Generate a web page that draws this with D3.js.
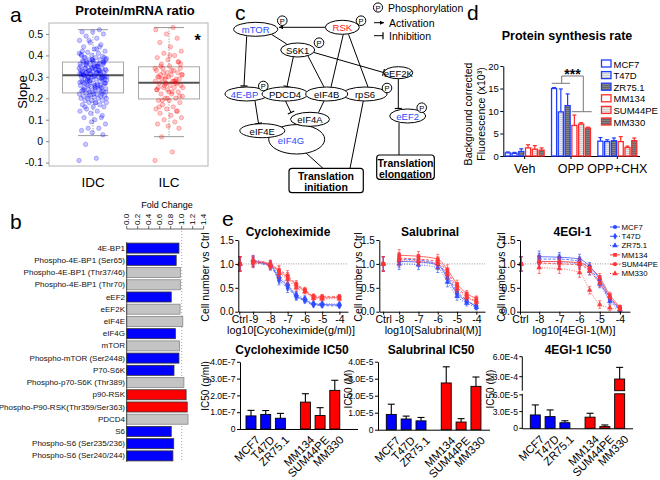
<!DOCTYPE html>
<html><head><meta charset="utf-8">
<script src="https://cdn.jsdelivr.net/npm/d3@7"></script>
<style>body{margin:0;background:#fff}svg{display:block}</style>
</head><body><svg id="fig" width="660" height="480"></svg>
<script>
// ---------------- DATA ----------------
// a: protein/mRNA slope
const aCategories = ["IDC", "ILC"];
const aTicks = [-0.1, 0, 0.1, 0.2, 0.3, 0.4, 0.5];
const aIDC = [-0.09,-0.08,-0.015,0.03,0.04,0.05,0.06,0.06,0.08,0.1,0.11,0.11,0.13,0.14,0.14,
 0.15,0.16,0.16,0.17,0.17,0.18,0.18,0.18,0.19,0.19,0.19,0.2,0.2,0.2,0.21,
 0.205,0.21,0.21,0.215,0.22,0.22,0.225,0.23,0.23,0.235,0.24,0.24,0.245,0.25,0.25,0.25,
 0.255,0.26,0.26,0.265,0.27,0.27,0.275,0.28,0.28,0.285,0.29,0.29,0.295,0.3,0.3,0.3,0.3,
 0.305,0.305,0.31,0.31,0.315,0.315,0.32,0.32,0.32,0.325,0.325,0.33,0.33,0.33,0.335,0.34,0.34,0.345,0.35,0.35,
 0.28,0.29,0.3,0.31,0.32,0.33,0.34,0.35,0.36,0.37,0.38,0.32,0.33,0.3,0.27,0.26,0.24,0.23,
 0.355,0.36,0.36,0.365,0.37,0.37,0.375,0.38,0.38,0.385,0.39,0.39,0.395,0.4,
 0.405,0.41,0.415,0.42,0.43,0.44,0.45,0.46,0.47,0.48,0.49,0.5,0.51,0.51,0.52,
 0.21,0.23,0.25,0.27,0.29,0.31,0.33,0.35,0.37,0.39,0.22,0.24,0.26,0.28,0.3,0.32,0.34,0.36,0.38,0.4,
 0.315,0.325,0.335,0.345,0.305,0.295,0.285,0.275,0.265,0.355,0.365,0.375,0.42,0.44,0.47,0.2,0.18,0.16,0.12,0.09,
 0.31,0.33,0.29,0.27,0.35,0.37,0.25,0.23,0.41,0.43,0.32,0.3,0.34,0.28,0.36,0.26,0.38,0.24,0.39,0.22];
const aILC = [-0.09,-0.05,0.02,0.06,0.07,0.08,0.09,0.1,0.11,0.12,0.13,0.14,0.15,0.15,0.16,0.17,
 0.18,0.19,0.19,0.2,0.2,0.21,0.22,0.22,0.23,0.24,0.24,0.25,0.25,
 0.26,0.26,0.27,0.27,0.27,0.28,0.28,0.29,0.29,0.3,0.3,0.28,0.26,0.31,
 0.31,0.31,0.32,0.32,0.33,0.33,0.34,0.34,0.35,0.3,0.29,0.27,0.25,0.23,
 0.36,0.37,0.38,0.39,0.4,0.41,0.42,0.44,0.46,0.48,0.5,0.52,0.53,
 0.19,0.21,0.23,0.25,0.27,0.29,0.31,0.33,0.35,0.37,0.2,0.24,0.28,0.32,0.36,0.4,0.16,0.14,0.3,0.34];
// [whiskerLow, q1, median, q3, whiskerHigh]
const aBoxIDC = [0.026, 0.225, 0.307, 0.369, 0.52];
const aBoxILC = [0.021, 0.197, 0.272, 0.347, 0.53];

// b: fold change
const bLabels = ["4E-BP1","Phospho-4E-BP1 (Ser65)","Phospho-4E-BP1 (Thr37/46)","Phospho-4E-BP1 (Thr70)",
 "eEF2","eEF2K","eIF4E","eIF4G","mTOR","Phospho-mTOR (Ser2448)","P70-S6K","Phospho-p70-S6K (Thr389)",
 "p90-RSK","Phospho-P90-RSK(Thr359/Ser363)","PDCD4","S6","Phospho-S6 (Ser235/236)","Phospho-S6 (Ser240/244)"];
const bValues = [0.95,0.9,0.975,0.975,0.81,0.97,1.02,0.885,0.96,0.95,0.86,1.04,1.08,1.1,1.115,0.81,0.855,0.84];
const bClass = ["down","down","ns","ns","down","ns","ns","down","ns","down","down","ns","up","up","ns","down","down","down"];
const bTicks = [0,0.2,0.4,0.6,0.8,1.0,1.2,1.4];

// d: protein synthesis rate
const dGroups = ["Veh","OPP","OPP+CHX"];
const dLines = ["MCF7","T47D","ZR75.1","MM134","SUM44PE","MM330"];
const dVeh = [0.7,0.6,1.0,1.8,1.5,1.3];
const dVehErr = [0.2,0.2,0.6,0.7,0.8,0.5];
const dOPP = [15.0,9.8,11.2,6.8,7.1,6.2];
const dOPPErr = [0.2,5.1,2.6,2.3,0.3,0.2];
const dCHX = [3.3,3.2,3.4,3.2,1.9,3.4];
const dCHXErr = [0.8,0.4,0.6,1.1,0.3,0.6];
const dTicks = [0,5,10,15,20];

// e: dose response
const eLines = ["MCF7","T47D","ZR75.1","MM134","SUM44PE","MM330"];
const cycloDose = [-9,-8,-7.5,-7,-6.5,-6,-5.5,-5,-4];
const cycloTicks = [-9,-8,-7,-6,-5,-4];
const cycloResp = [
 [1.05,0.97,0.70,0.55,0.33,0.25,0.16,0.15,0.14],
 [1.03,0.95,0.66,0.50,0.31,0.23,0.14,0.13,0.12],
 [1.08,0.99,0.74,0.58,0.36,0.28,0.18,0.17,0.16],
 [1.05,0.98,0.84,0.72,0.55,0.44,0.31,0.29,0.30],
 [1.07,1.00,0.87,0.76,0.58,0.46,0.33,0.32,0.32],
 [1.02,0.96,0.80,0.68,0.50,0.42,0.28,0.27,0.27]];
const cycloErr = [0.1,0.08,0.1,0.1,0.07,0.05,0.04,0.04,0.04];
const salDose = [-8,-7,-6,-5.5,-5,-4.5,-4];
const salTicks = [-8,-7,-6,-5,-4];
const salResp = [
 [1.05,1.04,0.98,0.70,0.38,0.22,0.12],
 [1.10,1.08,1.00,0.75,0.42,0.25,0.10],
 [1.00,0.98,0.92,0.62,0.32,0.18,0.09],
 [1.18,1.16,1.10,0.88,0.58,0.38,0.28],
 [1.12,1.10,1.05,0.82,0.52,0.33,0.22],
 [1.08,1.06,1.00,0.78,0.48,0.30,0.20]];
const salErr = [0.12,0.1,0.1,0.1,0.08,0.06,0.05];
const egiDose = [-8,-7,-6,-5.5,-5,-4.5,-4];
const egiTicks = [-8,-7,-6,-5,-4];
const egiResp = [
 [1.15,1.14,1.10,0.95,0.68,0.30,0.06],
 [1.10,1.10,1.05,0.90,0.62,0.25,0.05],
 [1.05,1.04,1.00,0.85,0.58,0.22,0.04],
 [1.05,1.05,1.02,0.92,0.72,0.35,0.10],
 [1.02,1.00,0.98,0.85,0.60,0.30,0.08],
 [0.92,0.90,0.82,0.45,0.15,0.08,0.05]];
const egiErr = [0.12,0.1,0.1,0.08,0.08,0.06,0.04];
const ctrlErr = 0.15;

// e: IC50
const cycloIC50 = [0.78e-7,0.87e-7,0.64e-7,1.6e-7,0.8e-7,2.3e-7];
const cycloIC50Err = [0.33e-7,0.23e-7,0.29e-7,0.5e-7,0.47e-7,0.6e-7];
const cycloIC50Ticks = [0,1e-7,2e-7,3e-7,4e-7];
const salIC50 = [0.9e-5,0.63e-5,0.52e-5,2.75e-5,0.45e-5,2.55e-5];
const salIC50Err = [0.6e-5,0.17e-5,0.2e-5,0.95e-5,0.2e-5,0.55e-5];
const salIC50Ticks = [0,1e-5,2e-5,3e-5,4e-5];
const egiIC50 = [2.4e-5,2.1e-5,1.0e-5,2.0e-5,0.3e-5,2.65e-4];
const egiIC50Err = [1.8e-5,1.2e-5,0.35e-5,0.7e-5,0.3e-5,1.75e-4];
const egiIC50TicksLow = [0,3e-5,6e-5];
const egiIC50TicksHigh = [3e-4,6e-4];

// ---------------- DRAWING ----------------
const F = '"Liberation Sans", Arial, Helvetica, sans-serif';
const svg = d3.select("#fig");
const BLUE = "#0000ff", RED = "#ff0000";
function T(g, x, y, s, size, o = {}) {
  const t = g.append("text").attr("x", x).attr("y", y).text(s)
    .attr("font-size", size).attr("font-family", F)
    .attr("text-anchor", o.anchor || "start").attr("fill", o.fill || "#000");
  if (o.bold) t.attr("font-weight", "bold");
  if (o.base) t.attr("dominant-baseline", o.base);
  if (o.rot != null) t.attr("transform", `rotate(${o.rot},${x},${y})`);
  return t;
}
function L(g, x1, y1, x2, y2, stroke = "#000", w = 1, dash = null) {
  const l = g.append("line").attr("x1", x1).attr("y1", y1).attr("x2", x2).attr("y2", y2)
    .attr("stroke", stroke).attr("stroke-width", w);
  if (dash) l.attr("stroke-dasharray", dash);
  return l;
}
function styleAxis(ax, size, color = "#000") {
  ax.selectAll("text").attr("font-size", size).attr("font-family", F).attr("fill", "#000");
  ax.selectAll("line").attr("stroke", color);
  ax.selectAll("path").attr("stroke", color);
}
const defs = svg.append("defs");
function stripe(id, bg, fg) {
  const p = defs.append("pattern").attr("id", id).attr("patternUnits", "userSpaceOnUse").attr("width", 4).attr("height", 2);
  p.append("rect").attr("width", 4).attr("height", 2).attr("fill", bg);
  p.append("rect").attr("width", 4).attr("height", 0.8).attr("fill", fg);
}
stripe("pl", "#cfcfcf", "#f2f2f2");
stripe("pd", "#666", "#8c8c8c");

// panel letters
const gL = svg.append("g");
T(gL, 10, 22, "a", 21); T(gL, 10, 229, "b", 21); T(gL, 235, 20, "c", 21); T(gL, 467, 20, "d", 21); T(gL, 222, 226, "e", 21);

// ===== Panel a =====
{
  const g = svg.append("g");
  const y = d3.scaleLinear().domain([-0.1, 0.5]).range([162.6, 34]);
  const x = d3.scalePoint().domain(aCategories).range([55, 207]).padding(0.5);
  T(g, 135, 15, "Protein/mRNA ratio", 13, {anchor: "middle", bold: true});
  g.append("rect").attr("x", 49).attr("y", 23).attr("width", 159).attr("height", 143)
    .attr("fill", "none").attr("stroke", "#b4b4b4");
  const ax = g.append("g").attr("transform", "translate(49,0)")
    .call(d3.axisLeft(y).tickValues(aTicks).tickSize(3).tickPadding(3).tickFormat(d => String(d)));
  ax.select(".domain").remove();
  styleAxis(ax, 10.5, "#888");
  T(g, 22, 92, "Slope", 13, {anchor: "middle", rot: -90, base: "central"});
  const boxes = [aBoxIDC, aBoxILC], pts = [aIDC, aILC], cols = [BLUE, RED];
  aCategories.forEach((c, i) => {
    const cx = x(c), s = boxes[i];
    L(g, cx, y(s[3]), cx, y(s[4]), "#999", 1, "1.2,1.5");
    L(g, cx, y(s[1]), cx, y(s[0]), "#999", 1, "1.2,1.5");
    L(g, cx - 15, y(s[4]), cx + 15, y(s[4]), "#999", 1);
    L(g, cx - 15, y(s[0]), cx + 15, y(s[0]), "#999", 1);
    g.append("rect").attr("x", cx - 30.5).attr("y", y(s[3])).attr("width", 61).attr("height", y(s[1]) - y(s[3]))
      .attr("fill", "none").attr("stroke", "#a8a8a8");
    L(g, cx - 30.5, y(s[2]), cx + 30.5, y(s[2]), "#555", 2);
    g.selectAll(null).data(pts[i]).enter().append("circle")
      .attr("cx", (d, k) => cx + (((k * 0.6180339887) % 1) - 0.5) * 28)
      .attr("cy", d => y(d)).attr("r", 2.2)
      .attr("fill", cols[i]).attr("fill-opacity", 0.22)
      .attr("stroke", cols[i]).attr("stroke-opacity", 0.4).attr("stroke-width", 0.6);
    T(g, cx, 187, c, 13.5, {anchor: "middle"});
  });
  T(g, 197.5, 46, "*", 16, {anchor: "middle", bold: true});
}

// ===== Panel b =====
{
  const g = svg.append("g");
  const x = d3.scaleLinear().domain([0, 1.4]).range([126.7, 203.7]);
  const y = d3.scaleBand().domain(bLabels).range([242, 462]).paddingInner(0.18).paddingOuter(0.09);
  T(g, 167, 208, "Fold Change", 9, {anchor: "middle"});
  L(g, x(0), 229, x(1.4), 229, "#444", 0.8);
  bTicks.forEach(t => {
    L(g, x(t), 229, x(t), 226, "#444", 0.8);
    T(g, x(t), 225, d3.format(".1f")(t), 8, {rot: -90, base: "central"});
  });
  L(g, x(1), 231, x(1), 462, "#aaa", 1, "1,2");
  const fill = {down: BLUE, ns: "#c4c4c4", up: RED};
  const strk = {down: "#333", ns: "#888", up: "#333"};
  g.selectAll(null).data(bValues).enter().append("rect")
    .attr("x", x(0)).attr("y", (d, i) => y(bLabels[i]))
    .attr("width", d => x(d) - x(0)).attr("height", y.bandwidth())
    .attr("fill", (d, i) => fill[bClass[i]]).attr("stroke", (d, i) => strk[bClass[i]]).attr("stroke-width", 0.8);
  bLabels.forEach(l => T(g, 125, y(l) + y.bandwidth() / 2, l, 8, {anchor: "end", base: "central", fill: "#111"}));
  L(g, x(0), 242, x(0), 462, "#333", 0.8);
}

// ===== Panel c =====
{
  const g = svg.append("g");
  const edges = [
    [325, 27.3, 279, 27.3, "arrow"], [271.7, 34.5, 286.7, 44, "line"], [246.7, 36.3, 244, 86, "inhib"],
    [293.3, 57, 287, 86.5, "inhib"], [308, 56, 324, 87, "line"], [314, 52.5, 383.5, 72.5, "inhib"],
    [343.3, 34.3, 331, 87, "line"], [348.5, 34.3, 368, 87, "line"], [398.3, 78.7, 398.3, 108.5, "inhib"],
    [399, 123, 399, 155, "line"], [255, 101, 258.5, 123.5, "inhib"], [285.5, 101, 291, 112.5, "inhib"],
    [324, 101, 318.5, 112.5, "line"], [306, 153, 323, 168.3, "line"], [363.3, 101, 350, 168.3, "line"]];
  function edge(e) {
    const [x1, y1, x2, y2, t] = e;
    L(g, x1, y1, x2, y2, "#000", 1);
    const a = Math.atan2(y2 - y1, x2 - x1);
    if (t === "inhib") {
      const px = -Math.sin(a) * 3.5, py = Math.cos(a) * 3.5;
      L(g, x2 - px, y2 - py, x2 + px, y2 + py, "#000", 1.2);
    } else if (t === "arrow") {
      const s = 4;
      g.append("path").attr("d", `M${x2},${y2}L${x2 - s * Math.cos(a) + 2 * Math.sin(a)},${y2 - s * Math.sin(a) - 2 * Math.cos(a)}L${x2 - s * Math.cos(a) - 2 * Math.sin(a)},${y2 - s * Math.sin(a) + 2 * Math.cos(a)}Z`).attr("fill", "#000");
    }
  }
  edges.forEach(edge);
  const nodes = [
    ["mTOR", 255.7, 29.3, 22, 7, "#2b4cff", [282.3, 20.7]], ["RSK", 342.3, 27.3, 17, 7, "#ff2020", [361, 20.7]],
    ["S6K1", 297.7, 50, 17, 7, "#000", [319, 42.7]], ["eEF2K", 398.3, 72.7, 14.5, 6, "#000", null],
    ["4E-BP", 246.5, 94, 21.5, 7, "#2b4cff", [263.3, 86]], ["PDCD4", 285, 94, 23, 7, "#000", null],
    ["rpS6", 365, 94, 22, 7, "#000", [387, 88]], ["eIF4B", 326.7, 94, 21, 7, "#000", null],
    ["eIF4G", 296.7, 139.3, 28, 14.7, "#2b4cff", null], ["eIF4E", 262.3, 130.7, 22.5, 7, "#000", null],
    ["eIF4A", 310, 119.3, 19.5, 7, "#000", null], ["eEF2", 407.7, 116, 18, 7, "#2b4cff", [421.7, 107.7]]];
  nodes.forEach(n => {
    g.append("ellipse").attr("cx", n[1]).attr("cy", n[2]).attr("rx", n[3]).attr("ry", n[4])
      .attr("fill", "#fff").attr("stroke", "#000").attr("stroke-width", 1);
  });
  nodes.forEach(n => {
    const tx = n[0] === "eIF4G" ? 291 : (n[0] === "4E-BP" ? 244.5 : n[1]), ty = n[0] === "eIF4G" ? 140 : n[2];
    T(g, tx, ty + 0.5, n[0], 9.5, {anchor: "middle", base: "central", fill: n[5]});
    if (n[6]) {
      g.append("circle").attr("cx", n[6][0]).attr("cy", n[6][1]).attr("r", 4.8).attr("fill", "#fff").attr("stroke", "#000");
      T(g, n[6][0], n[6][1] + 0.5, "P", 7.5, {anchor: "middle", base: "central"});
    }
  });
  [[289, 168.3, 74.3, 24.4, 326, "initiation"], [376.7, 155, 57.6, 24.3, 405.5, "elongation"]].forEach(b => {
    g.append("rect").attr("x", b[0]).attr("y", b[1]).attr("width", b[2]).attr("height", b[3]).attr("rx", 3)
      .attr("fill", "#fff").attr("stroke", "#000").attr("stroke-width", 1.2);
    T(g, b[4], b[1] + 7.5, "Translation", 10.5, {anchor: "middle", base: "central", bold: true});
    T(g, b[4], b[1] + 19, b[5], 10.5, {anchor: "middle", base: "central", bold: true});
  });
  // legend
  g.append("circle").attr("cx", 378).attr("cy", 7.5).attr("r", 4.6).attr("fill", "#fff").attr("stroke", "#000");
  T(g, 378, 8, "P", 7.5, {anchor: "middle", base: "central"});
  T(g, 388, 8, "Phosphorylation", 10.5, {base: "central"});
  edge([374, 22.7, 384, 22.7, "arrow"]);
  T(g, 389, 23, "Activation", 10.5, {base: "central"});
  edge([374, 35.7, 383, 35.7, "inhib"]);
  T(g, 389, 36, "Inhibition", 10.5, {base: "central"});
}

// ===== Panel d =====
{
  const g = svg.append("g");
  const y = d3.scaleLinear().domain([0, 20]).range([156, 66]);
  const x0 = d3.scaleBand().domain(dGroups).range([501.5, 640.5]).paddingInner(0.13).paddingOuter(0.065);
  const x1 = d3.scaleBand().domain(dLines).range([0, x0.bandwidth()]).paddingInner(0.25).paddingOuter(0.1);
  const fills = ["#fff", "url(#pl)", "url(#pd)", "#fff", "url(#pl)", "url(#pd)"];
  const strokes = ["#1f3dff", "#1f3dff", "#1f3dff", "#ff2a2a", "#ff2a2a", "#ff2a2a"];
  T(g, 567, 40, "Protein synthesis rate", 12.5, {anchor: "middle", bold: true});
  const ax = g.append("g").attr("transform", "translate(503.3,0)")
    .call(d3.axisLeft(y).tickValues(dTicks).tickSize(3).tickPadding(1.5).tickSizeOuter(0));
  styleAxis(ax, 9.5);
  const axb = g.append("g").attr("transform", "translate(0,156)")
    .call(d3.axisBottom(x0).tickSize(3).tickSizeOuter(0).tickPadding(5));
  axb.select(".domain").attr("d", "M503.3,0.5H640");
  styleAxis(axb, 12.5);
  T(g, 468, 114, "Background corrected", 10.5, {anchor: "middle", rot: -90, base: "central"});
  T(g, 481, 114, "Fluorescence (x10³)", 10.5, {anchor: "middle", rot: -90, base: "central"});
  const vals = [dVeh, dOPP, dCHX], errs = [dVehErr, dOPPErr, dCHXErr];
  dGroups.forEach((grp, gi) => {
    dLines.forEach((ln, li) => {
      const bx = x0(grp) + x1(ln), bw = x1.bandwidth(), v = vals[gi][li], e = errs[gi][li];
      const cx = bx + bw / 2;
      L(g, cx, y(v), cx, y(v + e), strokes[li], 1.2);
      L(g, cx - 2, y(v + e), cx + 2, y(v + e), strokes[li], 1.2);
      g.append("rect").attr("x", bx).attr("y", y(v)).attr("width", bw).attr("height", y(0) - y(v))
        .attr("fill", fills[li]).attr("stroke", strokes[li]).attr("stroke-width", 1.3);
    });
  });
  // significance bracket
  const gy = "#777";
  L(g, 561.7, 76, 583.3, 76, gy, 1); L(g, 561.7, 76, 561.7, 83.3, gy, 1); L(g, 551.7, 83.3, 570, 83.3, gy, 1);
  L(g, 583.3, 76, 583.3, 111.7, gy, 1); L(g, 571.7, 111.7, 591.7, 111.7, gy, 1);
  T(g, 572.5, 79, "***", 14, {anchor: "middle", bold: true});
  dLines.forEach((ln, li) => {
    const ly = 63.5 + li * 11.6;
    g.append("rect").attr("x", 601.5).attr("y", ly - 3.5).attr("width", 9.5).attr("height", 7)
      .attr("fill", fills[li]).attr("stroke", strokes[li]).attr("stroke-width", 1.3);
    T(g, 613.5, ly + 0.5, ln, 9.5, {base: "central"});
  });
}

// ===== Panel e: dose response =====
const lineCol = ["#2f4bff", "#2f4bff", "#2f4bff", "#ff3535", "#ff3535", "#ff3535"];
const lineDash = [null, "3,1.5", "1,1.5", null, "3,1.5", "1,1.5"];
const lineSym = [d3.symbolCircle, d3.symbolDiamond, d3.symbolTriangle, d3.symbolSquare, d3.symbolCircle, d3.symbolTriangle];
function dosePlot(o) {
  const g = svg.append("g");
  const x = d3.scaleLinear().domain(o.dom).range(o.rng);
  const y = d3.scaleLinear().domain([0, 1.5]).range([311.7, 240]);
  L(g, o.rng[0], y(1), o.rng[1], y(1), "#999", 1, "1,1.5");
  T(g, o.title[0], 236, o.title[1], 12, {anchor: "middle", bold: true});
  o.resp.forEach((r, li) => {
    const pts = o.dose.map((d, k) => [x(d), y(r[k])]);
    const p = g.append("path").attr("d", d3.line().curve(d3.curveMonotoneX)(pts))
      .attr("fill", "none").attr("stroke", lineCol[li]).attr("stroke-width", 1).attr("stroke-opacity", 0.75);
    if (lineDash[li]) p.attr("stroke-dasharray", lineDash[li]);
    const all = [[o.ctrlPos, 1, ctrlErr]].concat(o.dose.map((d, k) => [x(d), r[k], o.err[k]]));
    all.forEach(([px, v, e]) => {
      L(g, px, y(v - e), px, y(v + e), lineCol[li], 0.8).attr("stroke-opacity", 0.8);
      L(g, px - 1.5, y(v + e), px + 1.5, y(v + e), lineCol[li], 0.8).attr("stroke-opacity", 0.8);
      L(g, px - 1.5, y(v - e), px + 1.5, y(v - e), lineCol[li], 0.8).attr("stroke-opacity", 0.8);
      g.append("path").attr("d", d3.symbol(lineSym[li], 14)()).attr("transform", `translate(${px},${y(v)})`)
        .attr("fill", lineCol[li]).attr("fill-opacity", 0.9);
    });
  });
  const ay = g.append("g").attr("transform", `translate(${o.rng[0]},0)`)
    .call(d3.axisLeft(y).tickValues([0, 0.5, 1, 1.5]).tickFormat(d3.format(".1f")).tickSize(3).tickPadding(1.5).tickSizeOuter(0));
  styleAxis(ay, 10);
  const ticksAll = [o.ctrlVal].concat(o.ticks);
  const ax = g.append("g").attr("transform", "translate(0,311.7)")
    .call(d3.axisBottom(x).tickValues(ticksAll).tickFormat(d => d === o.ctrlVal ? "Ctrl" : String(d)).tickSize(3).tickPadding(0.5).tickSizeOuter(0));
  styleAxis(ax, 10.5);
  T(g, o.ylab, 277, "Cell number vs Ctrl", 10.5, {anchor: "middle", rot: -90, base: "central"});
  T(g, o.xlab[0], 334, o.xlab[1], 10.8, {anchor: "middle"});
  return {g, x, y};
}
dosePlot({dom: [-9.86, -3.5], rng: [238.3, 348], dose: cycloDose, resp: cycloResp, err: cycloErr, ticks: cycloTicks,
  ctrlVal: -9.8, ctrlPos: 240, ylab: 205, xlab: [291, "log10[Cycoheximide(g/ml)]"], title: [288, "Cycloheximide"]});
dosePlot({dom: [-9.03, -3.55], rng: [379.3, 485], dose: salDose, resp: salResp, err: salErr, ticks: salTicks,
  ctrlVal: -8.83, ctrlPos: 383.3, ylab: 357.5, xlab: [433, "log10[Salubrinal(M)]"], title: [430, "Salubrinal"]});
const p3 = dosePlot({dom: [-8.95, -3.5], rng: [520, 630], dose: egiDose, resp: egiResp, err: egiErr, ticks: egiTicks,
  ctrlVal: -8.95, ctrlPos: 521, ylab: 500.5, xlab: [574, "log10[4EGI-1(M)]"], title: [572.5, "4EGI-1"]});
// legend for dose plots
eLines.forEach((ln, li) => {
  const ly = 227 + li * 9.3;
  const l = L(p3.g, 610, ly, 620, ly, lineCol[li], 1);
  if (lineDash[li]) l.attr("stroke-dasharray", lineDash[li]);
  p3.g.append("path").attr("d", d3.symbol(lineSym[li], 14)()).attr("transform", `translate(615,${ly})`).attr("fill", lineCol[li]);
  T(p3.g, 621.5, ly + 0.3, ln, 7.8, {base: "central"});
});

// ===== Panel e: IC50 bars =====
const icSlots = [0, 1, 2, 3.7, 4.7, 5.7];
const icFill = [BLUE, BLUE, BLUE, RED, RED, RED];
function icPlot(o) {
  const g = svg.append("g");
  const xs = d3.scaleLinear().domain([0, 1]).range([o.x0, o.x0 + o.step]);
  T(g, o.title[0], 354, o.title[1], 12, {anchor: "middle", bold: true});
  const y = o.y;
  if (!o.broken) {
    const ax = g.append("g").attr("transform", `translate(${o.ax},0)`)
      .call(d3.axisLeft(y).tickValues(o.ticks).tickFormat(d => d === 0 ? "0" : d.toExponential(1).toUpperCase()).tickSize(3).tickPadding(1.5).tickSizeOuter(0));
    styleAxis(ax, 8.6);
  }
  L(g, o.ax, y(0) + 0.5, o.xEnd, y(0) + 0.5, "#000", 1);
  eLines.forEach((ln, i) => {
    const cx = xs(icSlots[i]);
    const v = o.vals[i], e = o.errs[i];
    const yt = o.yv(v), ye = o.yv(v + e);
    L(g, cx, yt, cx, ye, "#000", 1.1); L(g, cx - 3.5, ye, cx + 3.5, ye, "#000", 1.1);
    if (o.broken && v > o.lowMax) {
      g.append("rect").attr("x", cx - 5).attr("y", o.yLow(o.lowMax)).attr("width", 10).attr("height", y(0) - o.yLow(o.lowMax))
        .attr("fill", icFill[i]).attr("stroke", "#000").attr("stroke-width", 0.9);
      g.append("rect").attr("x", cx - 5).attr("y", yt).attr("width", 10).attr("height", o.yHigh(o.highMin) - yt)
        .attr("fill", icFill[i]).attr("stroke", "#000").attr("stroke-width", 0.9);
    } else {
      g.append("rect").attr("x", cx - 5).attr("y", yt).attr("width", 10).attr("height", y(0) - yt)
        .attr("fill", icFill[i]).attr("stroke", "#000").attr("stroke-width", 0.9);
    }
    T(g, cx + 4, y(0) + 6, ln, 11.3, {anchor: "end", rot: -45, base: "hanging"});
  });
  T(g, o.ylab[0], o.ylab[1], o.ylab[2], 10, {anchor: "middle", rot: -90, base: "central"});
  return g;
}
icPlot({x0: 251, step: 14.7, ax: 240, xEnd: 358, y: d3.scaleLinear().domain([0, 4e-7]).range([429, 361.8]),
  yv: d3.scaleLinear().domain([0, 4e-7]).range([429, 361.8]), vals: cycloIC50, errs: cycloIC50Err, ticks: cycloIC50Ticks,
  title: [292, "Cycloheximide IC50"], ylab: [205, 386, "IC50 (g/ml)"]});
icPlot({x0: 391.3, step: 14.85, ax: 378, xEnd: 490, y: d3.scaleLinear().domain([0, 4e-5]).range([429.7, 361.7]),
  yv: d3.scaleLinear().domain([0, 4e-5]).range([429.7, 361.7]), vals: salIC50, errs: salIC50Err, ticks: salIC50Ticks,
  title: [431, "Salubrinal IC50"], ylab: [348.5, 389, "IC50 (M)"]});
{
  const lowMax = 6.2e-5, highMin = 0.9e-4;
  const yLow = d3.scaleLinear().domain([0, 6e-5]).range([428.3, 394.9]);
  const yHigh = d3.scaleLinear().domain([0.9e-4, 6e-4]).range([390.7, 356.7]);
  const yv = v => v <= lowMax ? yLow(v) : yHigh(v);
  const g = icPlot({x0: 535.3, step: 14.8, ax: 522.3, xEnd: 633, y: yLow, yv, yLow, yHigh, lowMax, highMin, broken: true,
    vals: egiIC50, errs: egiIC50Err, title: [578, "4EGI-1 IC50"], ylab: [490.5, 389, "IC50 (M)"]});
  const fmt = d => d === 0 ? "0" : d.toExponential(1).toUpperCase();
  L(g, 522.3, 428.8, 522.3, yLow(lowMax), "#000", 1);
  L(g, 522.3, yHigh(highMin), 522.3, yHigh(6e-4), "#000", 1);
  egiIC50TicksLow.forEach(t => { L(g, 519.3, yLow(t), 522.3, yLow(t)); T(g, 518, yLow(t), fmt(t), 8.6, {anchor: "end", base: "central"}); });
  egiIC50TicksHigh.forEach(t => { L(g, 519.3, yHigh(t), 522.3, yHigh(t)); T(g, 518, yHigh(t), fmt(t), 8.6, {anchor: "end", base: "central"}); });
}
</script></body></html>
